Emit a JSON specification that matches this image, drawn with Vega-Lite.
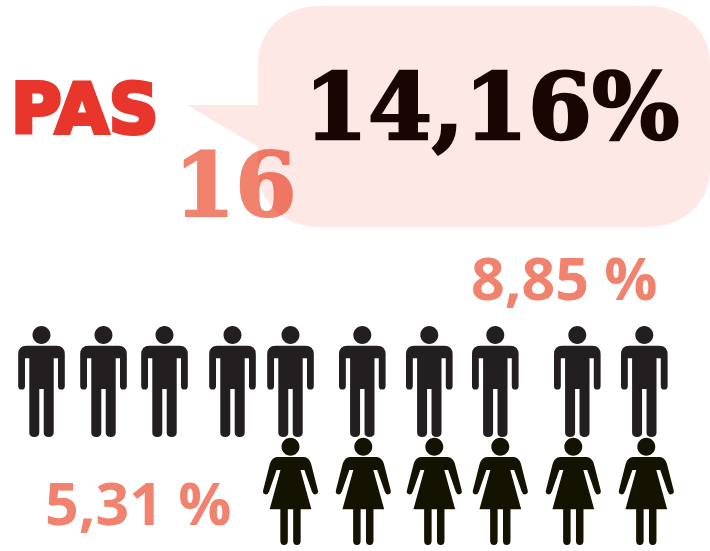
{"$schema":"https://vega.github.io/schema/vega-lite/v6.json","width":710,"height":551,"padding":0,"autosize":{"type":"fit","contains":"padding"},"background":"#ffffff","config":{"view":{"stroke":null}},
"datasets":{"men":[{"sex":"man","x":41.5,"y":381.5},{"sex":"man","x":103.5,"y":381.5},{"sex":"man","x":164.5,"y":381.5},{"sex":"man","x":232.5,"y":381.5},{"sex":"man","x":290.5,"y":381.5},{"sex":"man","x":362.3,"y":381.5},{"sex":"man","x":429.3,"y":381.5},{"sex":"man","x":495.3,"y":381.5},{"sex":"man","x":577.3,"y":381.5},{"sex":"man","x":644.3,"y":381.5}],
"women":[{"sex":"woman","x":290.5,"y":491.5},{"sex":"woman","x":363.3,"y":491.5},{"sex":"woman","x":434.3,"y":491.5},{"sex":"woman","x":500.3,"y":491.5},{"sex":"woman","x":573.3,"y":491.5},{"sex":"woman","x":646.3,"y":491.5}]},
"encoding":{"x":{"field":"x","type":"quantitative","axis":null,"scale":{"domain":[0,710]}},"y":{"field":"y","type":"quantitative","axis":null,"scale":{"domain":[551,0]}}},
"layer":[
{"data":{"values":[{"label":"16","x":174,"y":216}]},"mark":{"type":"text","font":"DejaVu Serif","fontWeight":"bold","fontSize":88,"align":"left","baseline":"alphabetic","color":"#f1826e","stroke":"#f1826e","strokeWidth":2},"encoding":{"text":{"field":"label"}}},
{"data":{"values":[{"x":448.5,"y":116.5}]},"mark":{"type":"point","filled":true,"size":273529,"color":"#fde8e6","opacity":1,"blend":"multiply","shape":"M-0.7285,-0.2 C-0.7285,-0.33 -0.63,-0.4226 -0.49,-0.4226 L0.76,-0.4226 C0.9,-0.4226 1,-0.33 1,-0.2 L1,0.2 C1,0.33 0.9,0.4226 0.76,0.4226 L-0.49,0.4226 C-0.63,0.4226 -0.7285,0.33 -0.7285,0.2 L-0.7285,0.1166 L-1,-0.044 L-0.7285,-0.044 Z"}},
{"data":{"values":[{"label":"PAS","x":11,"y":133}]},"mark":{"type":"text","font":"DejaVu Sans","fontWeight":"bold","fontSize":69,"align":"left","baseline":"alphabetic","color":"#e9362c","stroke":"#e9362c","strokeWidth":4},"encoding":{"text":{"field":"label"}}},
{"data":{"values":[{"label":"14,16%","x":304,"y":139}]},"mark":{"type":"text","font":"DejaVu Serif","fontWeight":"bold","fontSize":92,"align":"left","baseline":"alphabetic","color":"#1a0505","stroke":"#1a0505","strokeWidth":2.5},"encoding":{"text":{"field":"label"}}},
{"data":{"values":[{"label":"8,85 %","x":471,"y":300},{"label":"5,31 %","x":45,"y":525}]},"mark":{"type":"text","font":"Open Sans","fontWeight":"bold","fontSize":59,"align":"left","baseline":"alphabetic","color":"#f1826e"},"encoding":{"text":{"field":"label"}}},
{"data":{"name":"men"},"mark":{"type":"point","filled":true,"size":12321,"color":"#231f20","opacity":1,"shape":"M-0.162,-0.838 A0.162,0.162 0 1 1 0.162,-0.838 A0.162,0.162 0 1 1 -0.162,-0.838 Z M-0.27,-0.646 L0.27,-0.646 Q0.42,-0.646 0.42,-0.49 L0.42,0.08 Q0.42,0.145 0.357,0.145 Q0.297,0.145 0.297,0.08 L0.297,-0.417 L0.22,-0.417 L0.22,0.92 Q0.22,1 0.13,1 Q0.04,1 0.04,0.92 L0.04,0.135 L-0.04,0.135 L-0.04,0.92 Q-0.04,1 -0.13,1 Q-0.22,1 -0.22,0.92 L-0.22,-0.417 L-0.297,-0.417 L-0.297,0.08 Q-0.297,0.145 -0.357,0.145 Q-0.42,0.145 -0.42,0.08 L-0.42,-0.49 Q-0.42,-0.646 -0.27,-0.646 Z"}},
{"data":{"name":"women"},"mark":{"type":"point","filled":true,"size":11449,"color":"#141200","opacity":1,"shape":"M-0.168,-0.838 A0.168,0.168 0 1 1 0.168,-0.838 A0.168,0.168 0 1 1 -0.168,-0.838 Z M-0.25,-0.645 L0.25,-0.645 Q0.34,-0.645 0.385,-0.52 L0.51,-0.03 Q0.53,0.05 0.46,0.055 Q0.42,0.055 0.40,0 L0.26,-0.4 L0.187,-0.4 L0.39,0.333 L0.19,0.333 L0.19,0.92 Q0.19,1 0.12,1 Q0.05,1 0.05,0.92 L0.05,0.333 L-0.05,0.333 L-0.05,0.92 Q-0.05,1 -0.12,1 Q-0.19,1 -0.19,0.92 L-0.19,0.333 L-0.39,0.333 L-0.187,-0.4 L-0.26,-0.4 L-0.40,0 Q-0.42,0.055 -0.46,0.055 Q-0.53,0.05 -0.51,-0.03 L-0.385,-0.52 Q-0.34,-0.645 -0.25,-0.645 Z"}}
]}
